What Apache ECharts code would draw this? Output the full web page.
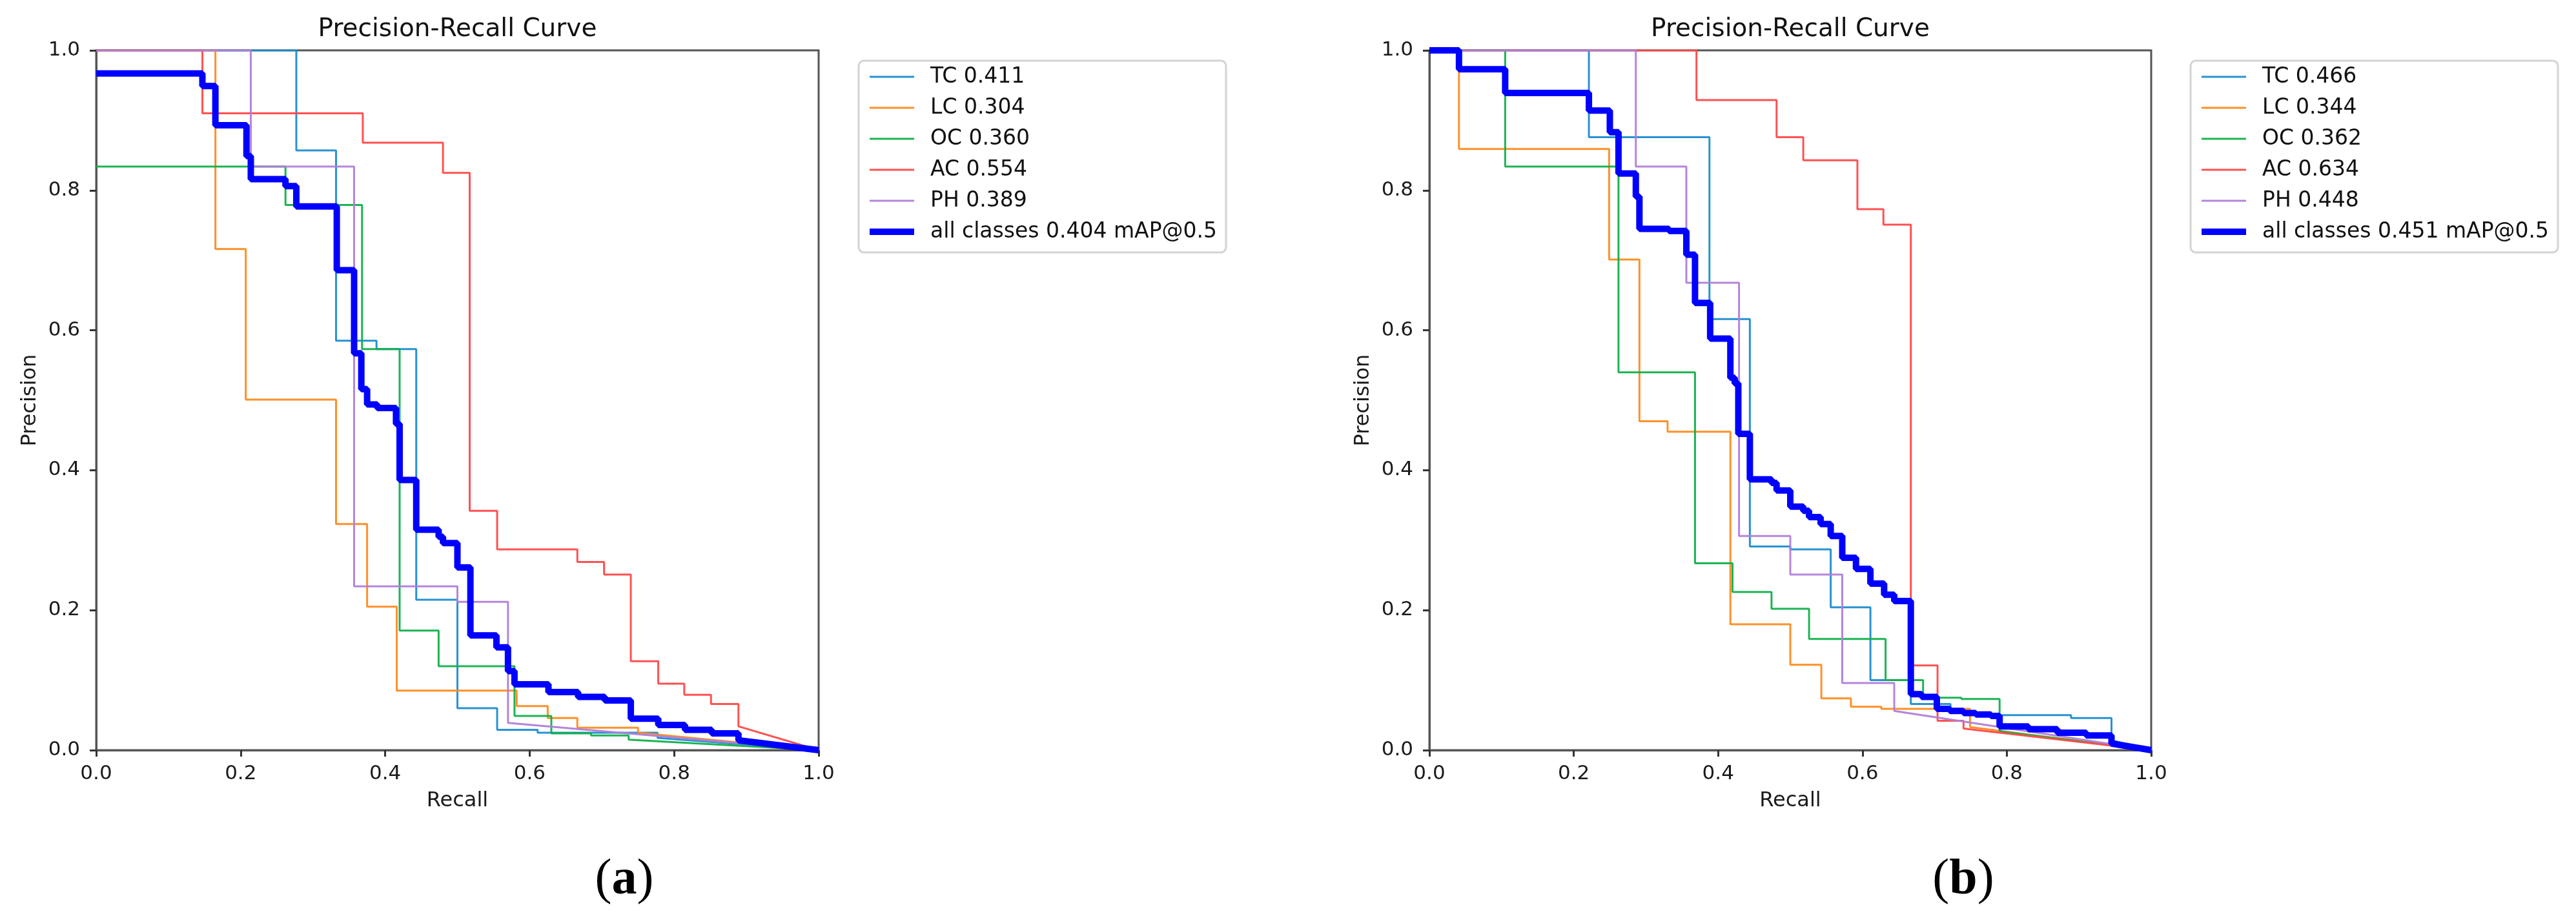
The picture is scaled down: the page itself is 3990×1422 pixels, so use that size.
<!DOCTYPE html>
<html>
<head>
<meta charset="utf-8">
<script src="https://cdn.jsdelivr.net/npm/echarts@6/dist/echarts.min.js"></script>
<style>
  html, body { margin: 0; padding: 0; background: #ffffff; }
  #chart { width: 3990px; height: 1422px; }
</style>
</head>
<body>
<div id="chart"></div>
<script>
// ---------- data ----------
// Each curve: recall positions where precision steps down, and the precision levels
// (level[0] holds from recall 0 to recall[0], level[i] from recall[i-1] to recall[i]);
// after the last step the curve falls linearly to (1, 0).
const xTicks = [0.0, 0.2, 0.4, 0.6, 0.8, 1.0];
const yTicks = [0.0, 0.2, 0.4, 0.6, 0.8, 1.0];

// ---- (a) ----
const namesA = ['TC 0.411', 'LC 0.304', 'OC 0.360', 'AC 0.554', 'PH 0.389', 'all classes 0.404 mAP@0.5'];
const recallA_TC = [0.277, 0.332, 0.388, 0.443, 0.500, 0.555, 0.611, 0.777];
const precA_TC   = [1.0, 0.857, 0.585, 0.573, 0.215, 0.060, 0.029, 0.025, 0.0175];
const recallA_LC = [0.165, 0.207, 0.332, 0.375, 0.416, 0.582, 0.625, 0.666, 0.750];
const precA_LC   = [1.0, 0.716, 0.501, 0.323, 0.205, 0.085, 0.063, 0.046, 0.032, 0.025];
const recallA_OC = [0.262, 0.368, 0.420, 0.474, 0.579, 0.630, 0.685, 0.737];
const precA_OC   = [0.834, 0.779, 0.573, 0.171, 0.120, 0.049, 0.024, 0.021, 0.015];
const recallA_AC = [0.147, 0.369, 0.480, 0.517, 0.555, 0.666, 0.703, 0.740, 0.778, 0.814, 0.851, 0.889];
const precA_AC   = [1.0, 0.910, 0.868, 0.825, 0.342, 0.287, 0.269, 0.251, 0.127, 0.095, 0.079, 0.066, 0.034];
const recallA_PH = [0.214, 0.357, 0.500, 0.570];
const precA_PH   = [1.0, 0.834, 0.234, 0.212, 0.039];
const recallA_ALL = [0.147, 0.165, 0.208, 0.214, 0.262, 0.277, 0.333, 0.357, 0.367, 0.375, 0.389, 0.415, 0.420,
                     0.443, 0.474, 0.480, 0.500, 0.518, 0.554, 0.570, 0.579, 0.626, 0.667, 0.704, 0.740, 0.778,
                     0.815, 0.852, 0.889];
const precA_ALL   = [0.967, 0.949, 0.893, 0.849, 0.816, 0.806, 0.777, 0.686, 0.567, 0.516, 0.494, 0.489, 0.466, 0.386,
                     0.315, 0.305, 0.296, 0.261, 0.164, 0.147, 0.113, 0.094, 0.083, 0.076, 0.071, 0.045, 0.036,
                     0.029, 0.024, 0.014];

// ---- (b) ----
const namesB = ['TC 0.466', 'LC 0.344', 'OC 0.362', 'AC 0.634', 'PH 0.448', 'all classes 0.451 mAP@0.5'];
const recallB_TC = [0.221, 0.388, 0.444, 0.500, 0.556, 0.611, 0.667, 0.722, 0.778, 0.889, 0.945];
const precB_TC   = [1.0, 0.876, 0.616, 0.291, 0.287, 0.204, 0.100, 0.066, 0.054, 0.050, 0.046, 0.014];
const recallB_LC = [0.041, 0.249, 0.291, 0.330, 0.417, 0.500, 0.543, 0.584, 0.626, 0.749];
const precB_LC   = [1.0, 0.859, 0.701, 0.470, 0.455, 0.180, 0.122, 0.074, 0.062, 0.059, 0.033];
const recallB_OC = [0.105, 0.262, 0.368, 0.420, 0.474, 0.526, 0.632, 0.684, 0.737, 0.790];
const precB_OC   = [1.0, 0.834, 0.540, 0.267, 0.226, 0.202, 0.159, 0.100, 0.075, 0.073, 0.027];
const recallB_AC = [0.370, 0.481, 0.518, 0.593, 0.629, 0.667, 0.704, 0.740];
const precB_AC   = [1.0, 0.929, 0.876, 0.843, 0.773, 0.751, 0.121, 0.042, 0.031];
const recallB_PH = [0.286, 0.356, 0.429, 0.500, 0.572, 0.644];
const precB_PH   = [1.0, 0.834, 0.668, 0.306, 0.251, 0.096, 0.056];
const recallB_ALL = [0.041, 0.105, 0.221, 0.250, 0.262, 0.286, 0.291, 0.332, 0.356, 0.368, 0.389, 0.417, 0.423,
                     0.428, 0.444, 0.474, 0.481, 0.500, 0.518, 0.526, 0.542, 0.556, 0.572, 0.591, 0.611, 0.630,
                     0.644, 0.667, 0.682, 0.703, 0.721, 0.740, 0.757, 0.778, 0.790, 0.830, 0.870, 0.910, 0.945];
const precB_ALL   = [1.0, 0.973, 0.939, 0.914, 0.883, 0.824, 0.791, 0.745, 0.742, 0.708, 0.639, 0.588, 0.532, 0.524,
                     0.452, 0.387, 0.382, 0.371, 0.348, 0.342, 0.333, 0.323, 0.306, 0.275, 0.259, 0.238, 0.222,
                     0.213, 0.080, 0.076, 0.059, 0.056, 0.053, 0.051, 0.049, 0.034, 0.030, 0.025, 0.021, 0.0095];

// ---------- styling ----------
const classColors = ['#1b8cd0', '#ff8a1c', '#10b04a', '#ff4848', '#b07ed8'];
const allColor = '#0000ff';
const FONT = 'DejaVu Sans';

function stepPoints(rs, ps) {
  const pts = [[0, ps[0]]];
  for (let i = 0; i < rs.length; i++) {
    pts.push([rs[i], ps[i]]);
    pts.push([rs[i], ps[i + 1]]);
  }
  pts.push([1, 0]);
  return pts;
}

const curvesA = [
  [recallA_TC, precA_TC], [recallA_LC, precA_LC], [recallA_OC, precA_OC],
  [recallA_AC, precA_AC], [recallA_PH, precA_PH], [recallA_ALL, precA_ALL]
];
const curvesB = [
  [recallB_TC, precB_TC], [recallB_LC, precB_LC], [recallB_OC, precB_OC],
  [recallB_AC, precB_AC], [recallB_PH, precB_PH], [recallB_ALL, precB_ALL]
];

function makeSeries(curves, names, idx) {
  return curves.map((c, i) => {
    const isAll = i === curves.length - 1;
    const color = isAll ? allColor : classColors[i];
    return {
      name: names[i],
      type: 'line',
      xAxisIndex: idx,
      yAxisIndex: idx,
      data: stepPoints(c[0], c[1]),
      symbol: 'none',
      showSymbol: false,
      color: color,
      lineStyle: { color: color, width: isAll ? 10 : 3, opacity: isAll ? 1 : 0.95 },
      z: isAll ? 5 : 3,
      animation: false
    };
  });
}

const gridTop = 78, gridH = 1084;
const grids = [
  { left: 149, top: gridTop, width: 1119, height: gridH },
  { left: 2214, top: gridTop, width: 1118, height: gridH }
];

function xAxisFor(i) {
  return {
    gridIndex: i, type: 'value', min: 0, max: 1, interval: 0.2,
    name: 'Recall', nameLocation: 'middle', nameGap: 63,
    nameTextStyle: { fontSize: 32, color: '#1a1a1a', fontFamily: FONT },
    axisLine: { show: true, onZero: false, lineStyle: { color: '#555', width: 3 } },
    axisTick: { show: true, length: 10, lineStyle: { color: '#333', width: 3 } },
    axisLabel: { fontSize: 31, color: '#1a1a1a', fontFamily: FONT, margin: 21, showMinLabel: true, showMaxLabel: true,
                 formatter: v => xTicks.find(t => Math.abs(t - v) < 1e-6).toFixed(1) },
    splitLine: { show: false }
  };
}
function yAxisFor(i) {
  return {
    gridIndex: i, type: 'value', min: 0, max: 1, interval: 0.2,
    name: 'Precision', nameLocation: 'middle', nameGap: 86,
    nameTextStyle: { fontSize: 32, color: '#1a1a1a', fontFamily: FONT },
    axisLine: { show: true, onZero: false, lineStyle: { color: '#555', width: 3 } },
    axisTick: { show: true, length: 10, lineStyle: { color: '#333', width: 3 } },
    axisLabel: { fontSize: 31, color: '#1a1a1a', fontFamily: FONT, margin: 25, showMinLabel: true, showMaxLabel: true,
                 formatter: v => yTicks.find(t => Math.abs(t - v) < 1e-6).toFixed(1) },
    splitLine: { show: false }
  };
}

function legendFor(names, left) {
  return {
    orient: 'vertical', left: left, top: 94,
    data: names,
    itemWidth: 69, itemHeight: 14, itemGap: 12,
    padding: [7, 14, 14, 12],
    borderColor: '#d4d4d4', borderWidth: 3, borderRadius: 8,
    backgroundColor: '#ffffff',
    selectedMode: false,
    itemStyle: { opacity: 0 },
    lineStyle: { width: 'inherit' },
    textStyle: { fontSize: 33, color: '#111', fontFamily: FONT, lineHeight: 36, padding: [0, 0, 0, 20] }
  };
}

function titleText(cx) {
  return {
    type: 'text', x: cx, y: 46, z: 10,
    style: { text: 'Precision-Recall Curve', fontSize: 39, fontFamily: FONT, fill: '#111',
             align: 'center', verticalAlign: 'middle' }
  };
}
function panelLabel(cx, letter) {
  return {
    type: 'text', x: cx, y: 1364, z: 10,
    style: {
      text: '{p|(}{b|' + letter + '}{p|)}',
      align: 'center', verticalAlign: 'middle',
      rich: {
        p: { fontFamily: 'Liberation Serif', fontSize: 78, fill: '#000' },
        b: { fontFamily: 'Liberation Serif', fontSize: 78, fontWeight: 'bold', fill: '#000' }
      }
    }
  };
}

const chart = echarts.init(document.getElementById('chart'), null, { renderer: 'canvas' });
chart.setOption({
  backgroundColor: '#ffffff',
  animation: false,
  textStyle: { fontFamily: FONT },
  grid: grids.map(g => Object.assign({ show: true, borderColor: '#555', borderWidth: 3, backgroundColor: 'transparent', containLabel: false }, g)),
  xAxis: [xAxisFor(0), xAxisFor(1)],
  yAxis: [yAxisFor(0), yAxisFor(1)],
  legend: [legendFor(namesA, 1330), legendFor(namesB, 3393)],
  series: makeSeries(curvesA, namesA, 0).concat(makeSeries(curvesB, namesB, 1)),
  graphic: [titleText(708.5), titleText(2773), panelLabel(967, 'a'), panelLabel(3041, 'b')]
});
</script>
</body>
</html>
